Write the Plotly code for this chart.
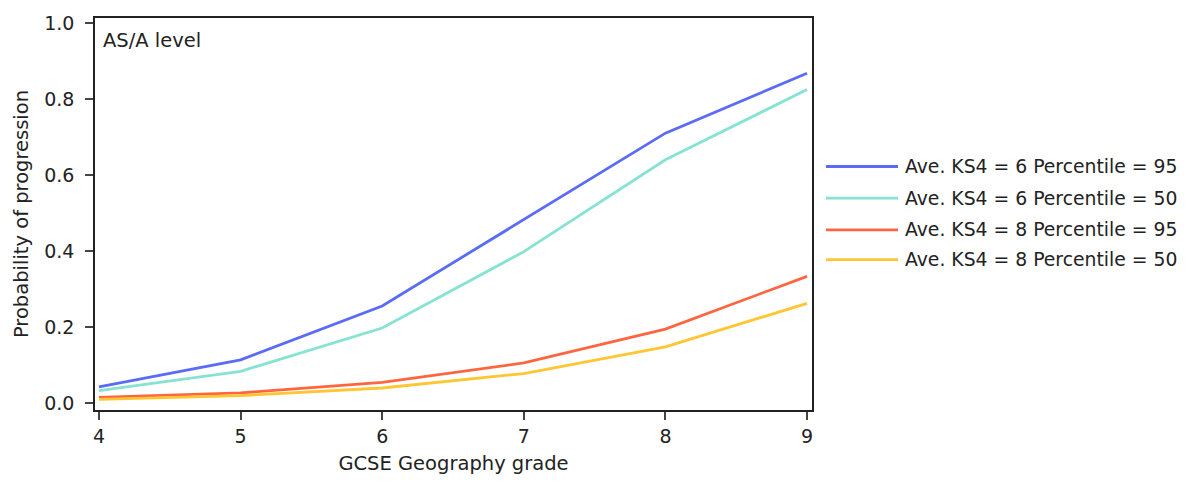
import plotly.graph_objects as go

grades = [4, 5, 6, 7, 8, 9]
labels = [
    "Ave. KS4 = 6 Percentile = 95",
    "Ave. KS4 = 6 Percentile = 50",
    "Ave. KS4 = 8 Percentile = 95",
    "Ave. KS4 = 8 Percentile = 50",
]
ks6_p95 = [0.043, 0.114, 0.256, 0.484, 0.711, 0.869]
ks6_p50 = [0.033, 0.084, 0.198, 0.399, 0.641, 0.826]
ks8_p95 = [0.015, 0.027, 0.055, 0.106, 0.195, 0.334]
ks8_p50 = [0.010, 0.020, 0.040, 0.078, 0.148, 0.263]
series = [ks6_p95, ks6_p50, ks8_p95, ks8_p50]
colors = ["#5A6BF7", "#86E3D2", "#FF6640", "#FFC633"]

W, H = 1192, 487
L, R, T, B = 95, 380, 14, 77
pw = W - L - R
ph = H - T - B

fig = go.Figure()
for lab, ys, c in zip(labels, series, colors):
    fig.add_trace(go.Scatter(x=grades, y=ys, mode="lines", name=lab,
                             line=dict(color=c, width=2.8), showlegend=False))

def px_to_paper_x(px):
    return (px - L) / pw

def py_to_paper_y(py):
    return 1 - (py - T) / ph

shapes = []
annotations = []
rows = [164, 196, 228, 258]
for lab, c, ry in zip(labels, colors, rows):
    shapes.append(dict(type="line", xref="paper", yref="paper",
                       x0=px_to_paper_x(826), x1=px_to_paper_x(898),
                       y0=py_to_paper_y(ry), y1=py_to_paper_y(ry),
                       line=dict(color=c, width=2.8)))
    annotations.append(dict(xref="paper", yref="paper", x=px_to_paper_x(903),
                            y=py_to_paper_y(ry), text=lab, showarrow=False,
                            xanchor="left", yanchor="middle",
                            font=dict(size=18.8, color="#222")))

annotations.append(dict(xref="paper", yref="paper", x=px_to_paper_x(101),
                        y=py_to_paper_y(37), text="AS/A level", showarrow=False,
                        xanchor="left", yanchor="middle",
                        font=dict(size=19.5, color="#222")))

font_family = "DejaVu Sans, Verdana, sans-serif"
fig.update_layout(
    width=W, height=H,
    margin=dict(l=L, r=R, t=T, b=B),
    paper_bgcolor="white", plot_bgcolor="white",
    font=dict(family=font_family, size=19, color="#222"),
    shapes=shapes, annotations=annotations,
    xaxis=dict(range=[3.972, 9.035], tickvals=grades, ticktext=[str(g) for g in grades],
               showgrid=False, zeroline=False, showline=True, mirror=True,
               linecolor="#222", linewidth=1.5, ticks="outside", ticklen=8,
               tickcolor="#444", tickwidth=1.5,
               tickfont=dict(size=19),
               title=dict(text="GCSE Geography grade", standoff=11,
                          font=dict(size=19.5, color="#222"))),
    yaxis=dict(range=[-0.018, 1.0143], tickvals=[0, 0.2, 0.4, 0.6, 0.8, 1.0],
               tickformat=".1f",
               showgrid=False, zeroline=False, showline=True, mirror=True,
               linecolor="#222", linewidth=1.5, ticks="outside", ticklen=8,
               tickcolor="#444", tickwidth=1.5,
               tickfont=dict(size=19), ticklabelstandoff=7,
               title=dict(text="Probability of progression", standoff=10,
                          font=dict(size=19.5, color="#222"))),
)

fig.write_html("out.html")
